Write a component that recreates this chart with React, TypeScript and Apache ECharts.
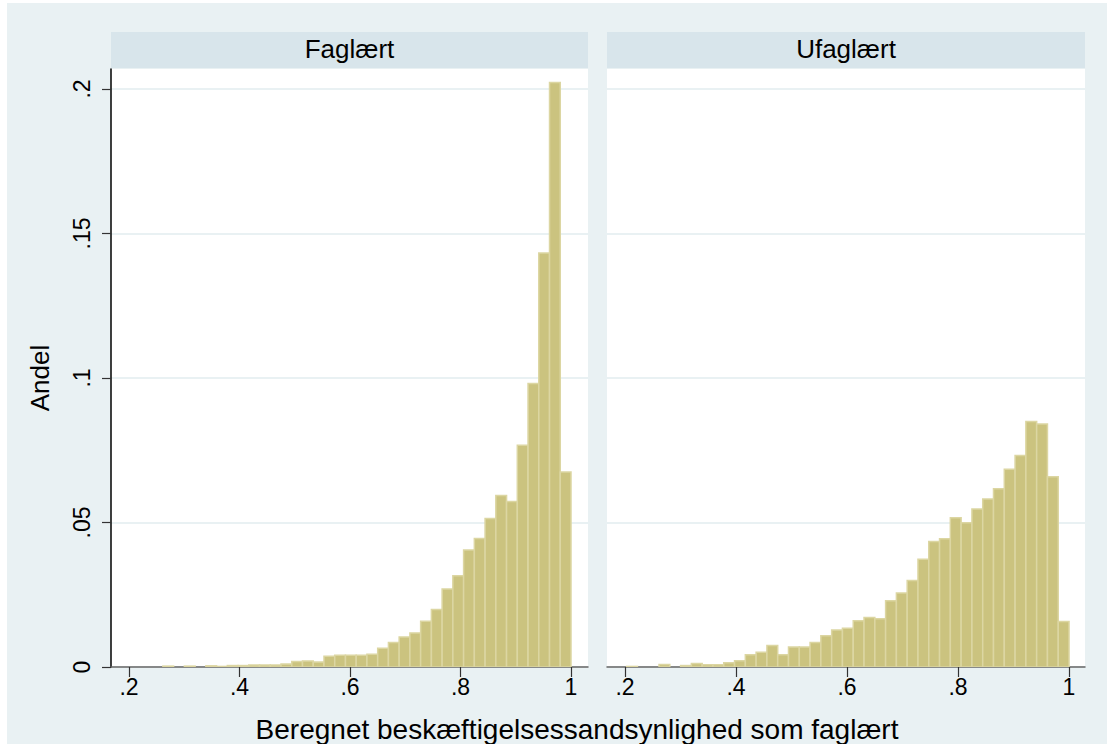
import React, { useEffect, useRef } from "react";
import * as echarts from "echarts";

// Histogram bins (common to both panels)
const BIN_START = 0.203;
const BIN_WIDTH = 0.01944;

// Share of observations per bin, Faglært (skilled)
const faglaertShares = [
  0, 0, 0, 0.0003, 0, 0.0003, 0, 0.0004, 0.0002, 0.0005,
  0.0005, 0.0007, 0.0007, 0.0007, 0.001, 0.0019, 0.0021, 0.0017, 0.0037, 0.0041,
  0.0041, 0.0041, 0.0044, 0.0065, 0.0085, 0.0104, 0.0118, 0.0158, 0.0199, 0.027,
  0.0316, 0.0405, 0.0445, 0.0514, 0.0593, 0.0573, 0.0767, 0.0981, 0.1432, 0.2022,
  0.0675,
];

// Share of observations per bin, Ufaglært (unskilled)
const ufaglaertShares = [
  0.0002, 0, 0, 0.0009, 0, 0.0005, 0.0012, 0.0008, 0.0008, 0.0015,
  0.0022, 0.0042, 0.0051, 0.0074, 0.0042, 0.0069, 0.0069, 0.0085, 0.0108, 0.0128,
  0.0134, 0.016, 0.0171, 0.0167, 0.0229, 0.0256, 0.0299, 0.0373, 0.0434, 0.0444,
  0.0516, 0.0499, 0.0547, 0.0581, 0.0617, 0.0684, 0.0732, 0.0849, 0.0841, 0.0658,
  0.0157,
];

const panelTitles = ["Faglært", "Ufaglært"];
const xTickValues = [0.2, 0.4, 0.6, 0.8, 1];
const yTickValues = [0, 0.05, 0.1, 0.15, 0.2];
const yTitle = "Andel";
const xTitle = "Beregnet beskæftigelsessandsynlighed som faglært";

const FONT = "'Liberation Sans', Arial, Helvetica, sans-serif";
const BG = "#e9f1f3";
const STRIP = "#d8e5eb";
const BAR_FILL = "#cbc37f";
const BAR_EDGE = "#dcd6a2";

const fmt = (v: number) => {
  if (v === 0) return "0";
  if (v === 1) return "1";
  return String(v).replace(/^0/, "");
};

function binData(shares: number[]) {
  return shares.map((s, i) => [BIN_START + i * BIN_WIDTH, BIN_START + (i + 1) * BIN_WIDTH, s]);
}

export default function App() {
  const ref = useRef<HTMLDivElement>(null);
  useEffect(() => {
    if (!ref.current) return;
    const chart = echarts.init(ref.current, undefined, { renderer: "svg" });

    const grids = [
      { left: 111, top: 69, width: 477, height: 598 },
      { left: 607, top: 69, width: 478, height: 598 },
    ];
    const xRanges = [
      [0.1674, 1.0308],
      [0.1676, 1.0288],
    ];

    const renderItem = (params: any, api: any) => {
      const x0 = api.value(0);
      const x1 = api.value(1);
      const y = api.value(2);
      if (!y) return null;
      const p0 = api.coord([x0, y]);
      const p1 = api.coord([x1, 0]);
      return {
        type: "rect",
        shape: { x: p0[0], y: p0[1], width: p1[0] - p0[0], height: p1[1] - p0[1] },
        style: { fill: BAR_FILL, stroke: BAR_EDGE, lineWidth: 1.5 },
      };
    };

    const option: any = {
      animation: false,
      backgroundColor: BG,
      textStyle: { fontFamily: FONT },
      grid: grids.map((g) => ({ ...g, show: true, backgroundColor: "#ffffff", borderWidth: 0 })),
      xAxis: grids.map((g, i) => ({
        type: "value",
        gridIndex: i,
        min: xRanges[i][0],
        max: xRanges[i][1],
        axisLine: { show: true, onZero: false, lineStyle: { color: "#666666", width: 1.5 } },
        axisTick: { show: true, length: 10, customValues: xTickValues, lineStyle: { color: "#333333", width: 1.2 } },
        axisLabel: {
          customValues: xTickValues,
          formatter: fmt,
          fontSize: 23,
          color: "#000",
          fontFamily: FONT,
          margin: 8,
        },
        splitLine: { show: false },
      })),
      yAxis: grids.map((g, i) => ({
        type: "value",
        gridIndex: i,
        min: 0,
        max: 0.2069,
        axisLine: { show: i === 0, lineStyle: { color: "#000000", width: 1.5 } },
        axisTick: { show: i === 0, length: 9, customValues: yTickValues, lineStyle: { color: "#333333", width: 1.2 } },
        axisLabel: {
          show: i === 0,
          customValues: yTickValues,
          formatter: fmt,
          rotate: 90,
          fontSize: 23,
          color: "#000",
          fontFamily: FONT,
          margin: 18,
        },
        splitLine: { show: true, lineStyle: { color: BG, width: 2 } },
      })),
      series: [faglaertShares, ufaglaertShares].map((shares, i) => ({
        type: "custom",
        xAxisIndex: i,
        yAxisIndex: i,
        renderItem,
        encode: { x: [0, 1], y: 2 },
        data: binData(shares),
        clip: true,
        z: 3,
      })),
      graphic: [
        { type: "rect", shape: { x: 0, y: 0, width: 1107, height: 3 }, style: { fill: "#ffffff" }, silent: true },
        { type: "rect", shape: { x: 0, y: 0, width: 7, height: 744 }, style: { fill: "#ffffff" }, silent: true },
        ...grids.map((g, i) => ({
          type: "rect",
          shape: { x: g.left, y: 32, width: g.width, height: 36 },
          style: { fill: STRIP },
          silent: true,
        })),
        ...grids.map((g, i) => ({
          type: "text",
          x: g.left + g.width / 2,
          y: 49,
          style: {
            text: panelTitles[i],
            fill: "#000",
            font: `26px ${FONT}`,
            textAlign: "center",
            textVerticalAlign: "middle",
          },
          silent: true,
        })),
        {
          type: "text",
          x: 40,
          y: 378,
          rotation: Math.PI / 2,
          style: { text: yTitle, fill: "#000", font: `26px ${FONT}`, textAlign: "center", textVerticalAlign: "middle" },
          silent: true,
        },
        {
          type: "text",
          x: 577,
          y: 729,
          style: { text: xTitle, fill: "#000", font: `28px ${FONT}`, textAlign: "center", textVerticalAlign: "middle" },
          silent: true,
        },
      ],
    };

    chart.setOption(option);
    return () => chart.dispose();
  }, []);

  return (
    <div
      ref={ref}
      style={{ position: "absolute", left: 0, top: 0, width: 1107, height: 744 }}
    />
  );
}
